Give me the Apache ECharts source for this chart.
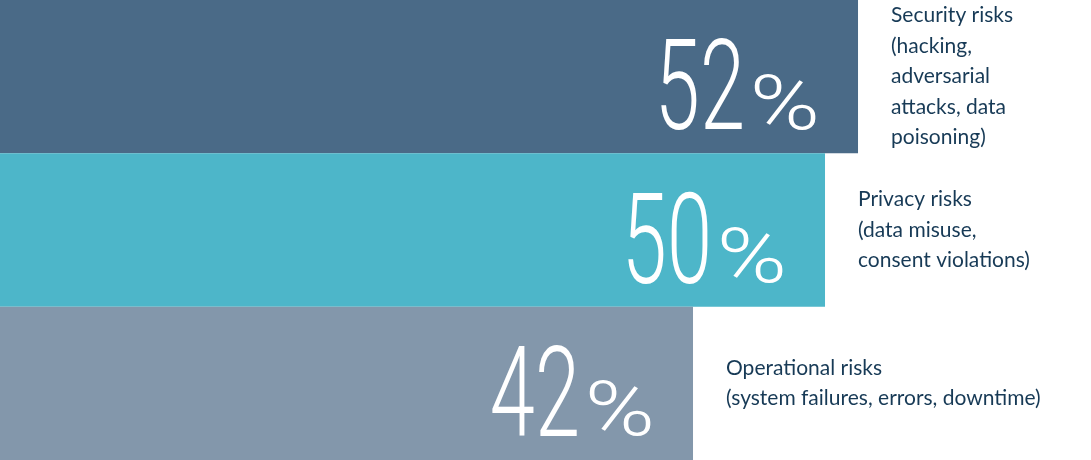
<!DOCTYPE html>
<html>
<head>
<meta charset="utf-8">
<script src="https://cdn.jsdelivr.net/npm/echarts@6/dist/echarts.min.js"></script>
<style>
html,body{margin:0;padding:0;background:#fff;}
#c{width:1091px;height:460px;}
</style>
</head>
<body>
<div id="c"></div>
<script>
const categories = [
  "Security risks\n(hacking,\nadversarial\nattacks, data\npoisoning)",
  "Privacy risks\n(data misuse,\nconsent violations)",
  "Operational risks\n(system failures, errors, downtime)"
];
const values = [52, 50, 42];
const barColors = ['#4a6a87', '#4db6c9', '#8397ab'];

const chart = echarts.init(document.getElementById('c'));
chart.setOption({
  animation: false,
  grid: {left: 0, right: 0, top: 0, bottom: 0},
  xAxis: {type: 'value', min: 0, max: 66.12, show: false},
  yAxis: {type: 'category', data: categories, inverse: true, show: false},
  series: [
    {
      type: 'bar',
      barWidth: '100%',
      data: values.map((v, i) => ({value: v, itemStyle: {color: barColors[i]}})),
      label: {
        show: true,
        position: 'right',
        distance: 33,
        formatter: p => categories[p.dataIndex],
        fontFamily: 'Lato',
        fontSize: 21,
        lineHeight: 30.5,
        color: '#173a56',
        align: 'left'
      }
    },
    {
      type: 'custom',
      data: values.map((v, i) => [v, i]),
      z: 10,
      renderItem: function (params, api) {
        const c = api.coord([api.value(0), api.value(1)]);
        const rx = c[0] - 38;
        const cy = c[1];
        return {
          type: 'group',
          children: [
            {
              type: 'text',
              x: rx,
              y: cy + 33,
              scaleX: 1.25,
              style: {
                text: '%',
                fontFamily: 'Roboto',
                fontWeight: 300,
                fontSize: 76,
                fill: '#ffffff',
                align: 'right',
                verticalAlign: 'middle'
              }
            },
            {
              type: 'text',
              x: rx - 75,
              y: cy + 21,
              scaleX: 0.64,
              style: {
                text: String(api.value(0)),
                fontFamily: 'Roboto',
                fontWeight: 300,
                fontSize: 127,
                fill: '#ffffff',
                align: 'right',
                verticalAlign: 'middle'
              }
            }
          ]
        };
      }
    }
  ]
});
</script>
</body>
</html>
